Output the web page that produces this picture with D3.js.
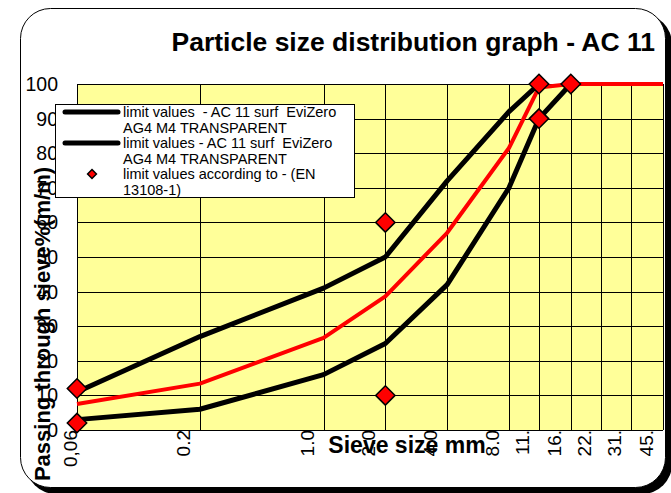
<!DOCTYPE html>
<html lang="en">
<head>
    <meta charset="UTF-8">
    <title>Particle size distribution graph - AC 11</title>
    <script src="https://d3js.org/d3.v7.min.js"></script>
    <style>
        body { margin: 0; background: #fff; }
        text { font-family: Arial, "Liberation Sans", sans-serif; }
    </style>
</head>
<body>

<svg width="671" height="493"></svg>
<script>

    // sieve sizes (mm) and their axis labels as shown
    var sieves = [0.063, 0.25, 1, 2, 4, 8, 11.2, 16, 22.4, 31.5, 45];
    var sieveLabels = ["0,06", "0.2", "1.0", "2.0", "4.0", "8.0", "11.", "16.", "22.", "31.", "45."];
    var yTicks = [0, 10, 20, 30, 40, 50, 60, 70, 80, 90, 100];

    // upper and lower limit curves, passing %
    var upperSieves = [0.063, 0.25, 1, 2, 4, 8, 11.2];
    var upperValues = [11, 27, 41, 50, 72, 92, 100];
    var lowerSieves = [0.063, 0.25, 1, 2, 4, 8, 11.2, 16];
    var lowerValues = [3, 6, 16, 25, 42, 70, 90, 100];

    // grading curve (red)
    var curveSieves = [0.063, 0.25, 1, 2, 4, 8, 11.2, 16, 22.4, 31.5, 45];
    var curveValues = [7.5, 13.4, 26.6, 38.6, 57, 81.5, 99, 100, 100, 100, 100];

    // limit points according to EN 13108-1
    var limitSieves = [0.063, 0.063, 2, 2, 11.2, 11.2, 16];
    var limitValues = [2, 12, 10, 60, 90, 100, 100];

    var legendLabels = [
        ["limit values  - AC 11 surf  EviZero", "AG4 M4 TRANSPARENT"],
        ["limit values - AC 11 surf  EviZero", "AG4 M4 TRANSPARENT"],
        ["limit values according to - (EN", "13108-1)"]
    ];

    var svg = d3.select("svg");

    // chart frame with shadow
    svg.append("rect")
        .attr("x", 26).attr("y", 14)
        .attr("width", 646).attr("height", 480)
        .attr("rx", 30).attr("ry", 30)
        .attr("fill", "#000");
    svg.append("rect")
        .attr("x", 20.5).attr("y", 8.5)
        .attr("width", 645).attr("height", 479)
        .attr("rx", 30).attr("ry", 30)
        .attr("fill", "#fff")
        .attr("stroke", "#000")
        .attr("stroke-width", 1);

    var x = d3.scaleLog().domain([0.063, 45]).range([77, 663]);
    var y = d3.scaleLinear().domain([0, 100]).range([430, 84]);

    var plot = svg.append("g");

    plot.append("rect")
        .attr("x", x.range()[0]).attr("y", y(100))
        .attr("width", x.range()[1] - x.range()[0])
        .attr("height", y(0) - y(100))
        .attr("fill", "#ffff99");

    // gridlines
    plot.selectAll(".hgrid")
        .data(yTicks)
        .enter().append("line")
        .attr("x1", x.range()[0]).attr("x2", x.range()[1])
        .attr("y1", function (d) { return Math.round(y(d)) + 0.5; })
        .attr("y2", function (d) { return Math.round(y(d)) + 0.5; })
        .attr("stroke", "#000").attr("stroke-width", 1);

    plot.selectAll(".vgrid")
        .data(sieves)
        .enter().append("line")
        .attr("x1", function (d) { return Math.round(x(d)) + 0.5; })
        .attr("x2", function (d) { return Math.round(x(d)) + 0.5; })
        .attr("y1", y(100)).attr("y2", y(0))
        .attr("stroke", "#000").attr("stroke-width", 1);

    // y tick labels
    svg.selectAll(".ytick")
        .data(yTicks)
        .enter().append("text")
        .attr("x", 58)
        .attr("y", function (d) { return y(d) + 7; })
        .attr("text-anchor", "end")
        .attr("font-size", 19.5)
        .text(function (d) { return d; });

    // x tick labels (rotated)
    svg.selectAll(".xtick")
        .data(sieves)
        .enter().append("text")
        .attr("transform", function (d) {
            var bx = Math.max(x(d) - 10, x.range()[0]);
            return "translate(" + bx + "," + 430 + ") rotate(-90)";
        })
        .attr("text-anchor", "end")
        .attr("font-size", 19)
        .text(function (d, i) { return sieveLabels[i]; });

    var line = d3.line()
        .x(function (d) { return x(d[0]); })
        .y(function (d) { return y(d[1]); });

    function pairs(xs, vs) {
        return xs.map(function (s, i) { return [s, vs[i]]; });
    }

    plot.append("path")
        .datum(pairs(upperSieves, upperValues))
        .attr("d", line)
        .attr("fill", "none").attr("stroke", "#000").attr("stroke-width", 5)
        .attr("stroke-linejoin", "round");

    plot.append("path")
        .datum(pairs(lowerSieves, lowerValues))
        .attr("d", line)
        .attr("fill", "none").attr("stroke", "#000").attr("stroke-width", 5)
        .attr("stroke-linejoin", "round");

    plot.append("path")
        .datum(pairs(curveSieves, curveValues))
        .attr("d", line)
        .attr("fill", "none").attr("stroke", "#ff0000").attr("stroke-width", 4)
        .attr("stroke-linejoin", "round");

    var diamond = d3.symbol().type(d3.symbolDiamond2).size(240);

    plot.selectAll(".limit")
        .data(pairs(limitSieves, limitValues))
        .enter().append("path")
        .attr("d", diamond)
        .attr("transform", function (d) {
            return "translate(" + x(d[0]) + "," + y(d[1]) + ")";
        })
        .attr("fill", "#ff0000")
        .attr("stroke", "#000")
        .attr("stroke-width", 1.5);

    // legend
    var legend = svg.append("g");
    legend.append("rect")
        .attr("x", 55.5).attr("y", 104.5)
        .attr("width", 299).attr("height", 93)
        .attr("fill", "#fff").attr("stroke", "#000").attr("stroke-width", 1);

    var rowTop = [117, 148, 179];

    legend.selectAll(".ltext")
        .data(legendLabels)
        .enter().append("text")
        .attr("font-size", 14.5)
        .style("white-space", "pre")
        .each(function (d, i) {
            var t = d3.select(this);
            d.forEach(function (s, j) {
                t.append("tspan")
                    .attr("x", 123)
                    .attr("y", rowTop[i] + j * 16)
                    .text(s);
            });
        });

    legend.selectAll(".lline")
        .data([0, 1])
        .enter().append("line")
        .attr("x1", 65).attr("x2", 118)
        .attr("y1", function (d) { return rowTop[d] - 5; })
        .attr("y2", function (d) { return rowTop[d] - 5; })
        .attr("stroke", "#000").attr("stroke-width", 5)
        .attr("stroke-linecap", "round");

    legend.append("path")
        .attr("d", d3.symbol().type(d3.symbolDiamond2).size(50))
        .attr("transform", "translate(92," + (rowTop[2] - 5) + ")")
        .attr("fill", "#ff0000").attr("stroke", "#000").attr("stroke-width", 1.5);

    // axis titles
    svg.append("text")
        .attr("x", 407).attr("y", 453)
        .attr("text-anchor", "middle")
        .attr("font-size", 23).attr("font-weight", "bold")
        .text("Sieve size mm");

    svg.append("text")
        .attr("transform", "translate(50,324) rotate(-90)")
        .attr("text-anchor", "middle")
        .attr("font-size", 22).attr("font-weight", "bold")
        .text("Passing through sieve%(m/m)");

    // chart title
    svg.append("text")
        .attr("x", 655).attr("y", 51)
        .attr("text-anchor", "end")
        .attr("font-size", 26.5).attr("font-weight", "bold")
        .text("Particle size distribution graph - AC 11");

</script>

</body>
</html>
